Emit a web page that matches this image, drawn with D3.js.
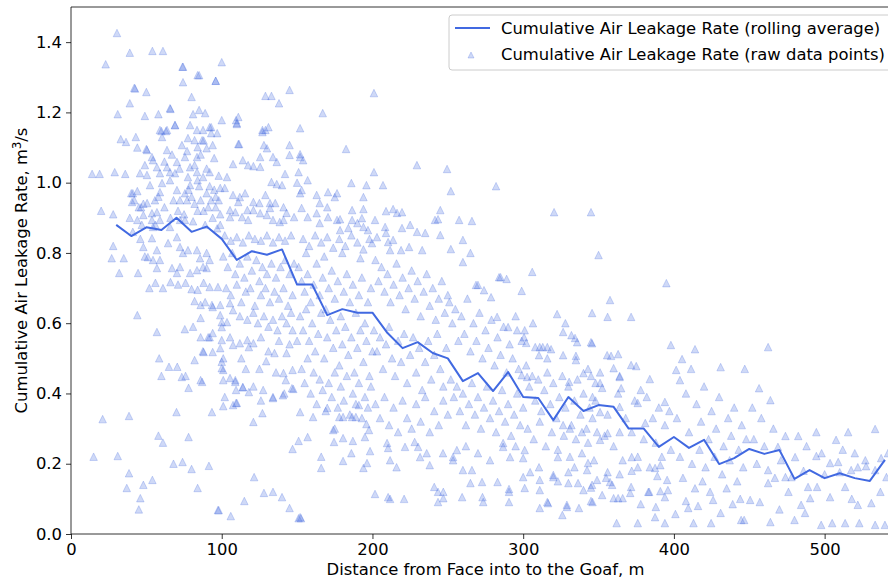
<!DOCTYPE html>
<html>
<head>
<meta charset="utf-8">
<script src="https://cdn.jsdelivr.net/npm/d3@7"></script>
<style>
  body { margin: 0; background: #fff; }
  svg { font-family: "DejaVu Sans", sans-serif; }
</style>
</head>
<body>
<svg id="chart" width="888" height="581"></svg>
<script>
// rolling average line (every 10 m)
var rollDist = [30,40,50,60,70,80,90,100,110,120,130,140,150,160,170,180,190,200,210,220,230,240,250,260,270,280,290,300,310,320,330,340,350,360,370,380,390,400,410,420,430,440,450,460,470,480,490,500,510,520,530,540];
var rollRate = [0.88,0.848,0.873,0.865,0.90,0.86,0.875,0.84,0.78,0.805,0.795,0.81,0.71,0.71,0.623,0.64,0.63,0.63,0.572,0.529,0.546,0.515,0.50,0.435,0.458,0.407,0.461,0.39,0.387,0.324,0.39,0.35,0.367,0.362,0.30,0.30,0.248,0.276,0.245,0.268,0.199,0.216,0.242,0.228,0.239,0.157,0.182,0.159,0.173,0.159,0.151,0.211];

// raw points, split by distance band
var rawNear = [[14,1.025],[19,1.025],[15,0.22],[20,0.92],[21,0.327],[23,1.337],[27,0.785],[28,0.91],[28,0.82],[29,1.03],[30.5,1.426],[31,1.195],[31,0.222],[32,0.743],[33,1.124],[35,0.785],[36,1.025],[36.5,1.116],[37,0.131],[38.5,0.336],[38.5,0.173],[39,1.37],[39,1.226],[40,0.97],[41,0.86],[42,1.27],[42,0.95],[43,1.13],[44,1.10],[44,0.623],[45,0.07],[45,0.93],[46,0.102],[46,0.84],[47,0.88],[48,0.14],[48,0.94],[49,1.19],[49,0.79],[50,1.258],[50,1.096],
  [41,0.97],[44,0.976],[40.5,0.945],[46.5,0.93],[50.5,0.942],[52.4,0.993],[55.7,0.95],[57,0.916],[53.7,0.913],[59,0.973],[60.4,0.999],[65.7,1.007],[69,1.027],[70.3,0.979],[72.3,0.95],[75.6,0.97],[79,0.993],[77.6,1.016],[84,1.007],[83.6,1.03],[87.6,1.016],
  [39,0.90],[44,0.894],[48,0.908],[53.7,0.894],[59,0.894],[54.4,0.874],[65.7,0.874],[72.3,0.894],[75.6,0.894],
  [48,0.817],[53.7,0.842],[57,0.808],[59,0.78],[64.4,0.828],[70.3,0.845],[72.3,0.817],[74.3,0.80],[77.6,0.808],[83.6,0.808],[85.6,0.785],[90,0.80],[92,0.78],[67,0.757],[70.3,0.743],[72.3,0.76],[79,0.743],[83.6,0.751],[87.6,0.76],[90,0.757],[57,0.757],[54.4,0.78],[51,0.788],[44.5,0.743],
  [59,1.15],[63.7,1.15],[60.4,1.13],[69,1.164],[65.7,1.212],[74.3,1.33],[74.3,1.286],[84,1.306],[96,1.29],[80,1.244],[85,1.207],[89,1.198],[81,1.195],[79,1.164],[83.6,1.15],[87.6,1.15],[92,1.158],[97,1.141],[77.6,1.127],[82,1.121],[87,1.121],[94,1.107],[84,1.101],[90,1.098],[50.4,1.093],[53.7,1.073],[63.7,1.093],[73.6,1.107],[75.6,1.073],[83.6,1.073],[79,1.044],[70.3,1.059],[63.7,1.044],[57,1.044],[54.4,1.064],[49,1.05],[45.8,1.027],[50.4,1.022],[59,1.027],[65.7,1.03],
  [54,1.375],[61,1.375],[74,1.33],[85,1.306],[96,1.29],[42.5,1.268],[58,1.195],[66,1.21],[69,1.164],[60,1.147],[63,1.147],[93,1.158],[93,1.141],
  [78,0.98],[80,0.96],[82,0.94],[85,0.99],[86,0.95],[88,0.92],[90,0.97],[91,0.93],[93,0.95],[94,0.90],[95,0.98],[96,0.93],[97,0.87],[98,0.95],[99,0.91],[99,0.88],[96,0.96],[92,0.99],[89,0.88],[84,0.92],[81,0.89],[77,0.95],[75,0.91],[71,0.92],[68,0.95],[66,0.90],[62,0.93],[58,0.96],[56,0.88],
  [62,1.06],[67,1.08],[72,1.04],[77,1.09],[82,1.05],[86,1.08],[90,1.04],[95,1.07],[98,1.02],[88,1.12],[92,1.03],
  [52,0.70],[56,0.715],[61,0.70],[66,0.717],[71,0.71],[76,0.715],[80,0.697],[84,0.695],[88,0.715],[92,0.703],[97.5,0.703],[82,0.663],[86,0.652],[89,0.66],[93.5,0.652],[86,0.615],[57,0.575],[58.5,0.50],[65,0.476],[70.5,0.476],[60,0.45],[73.5,0.447],[76,0.45],[78,0.416],[75.5,0.583],[81,0.59],[87.5,0.52],[82,0.495],[87,0.433],[70,0.347],[93.5,0.347],[78,0.276],[58,0.28],[61,0.26],[68,0.20],[74,0.205],[80,0.185],[91.5,0.194],[84,0.131],[97.5,0.068],[54,0.154],[92,0.56],
  [86,0.56],[91,0.56],[94,0.572],[88,0.518],[94,0.518],[86,0.438],[94,0.646],[99,0.652],[99,0.623]];

var rawMid1 = [[100,1.343],[100,1.178],[109.5,1.178],[110,1.167],[111,1.187],[110,1.17],[111,1.11],[111.5,1.11],[127,1.15],[129,1.15],[131,1.158],[127,1.144],[128,1.107],[130,1.098],[129,1.247],[133,1.247],[138,1.226],[145,1.264],[125.5,1.073],[134,1.073],[136.5,1.059],[145,1.079],[145,1.107],[107.5,1.053],[114,1.064],[117.5,1.05],[121,1.047],[125.5,1.045],[142,1.025],[133,1.002],[136.5,0.996],[140,0.993],[103.5,1.016],[99,0.985],[102,0.985],[112,0.959],[115.5,0.97],[111,0.945],[107.5,0.965],[121,0.945],[125,0.942],[129,0.965],[132,0.942],[135.5,0.942],[141,0.93],[143,0.914],[148,0.902],[105.5,0.922],[105.5,0.902],[109,0.916],[113.5,0.902],[117,0.922],[117.5,0.894],[121,0.922],[125.5,0.913],[130,0.908],[132,0.928],[134,0.894],[138.5,0.888],[141,0.894],
  [102,0.85],[106,0.835],[110,0.845],[114,0.83],[118,0.85],[122,0.84],[126,0.835],[130,0.85],[134,0.83],[138,0.845],[142,0.835],[146,0.85],
  [101,0.79],[104,0.76],[107,0.80],[109,0.74],[112,0.77],[115,0.73],[117,0.79],[120,0.75],[123,0.78],[125,0.72],[127,0.76],[130,0.74],[133,0.77],[136,0.73],[139,0.76],[142,0.78],[145,0.74],[148,0.77],[103,0.70],[106,0.68],[110,0.71],[113,0.66],[116,0.69],[119,0.70],[122,0.65],[126,0.68],[129,0.70],[132,0.66],[135,0.69],[138,0.67],[141,0.70],[144,0.65],[147,0.68],[105.5,0.657],[107.5,0.637],[112,0.62],[117,0.61],[121,0.63],[124,0.60],[128,0.62],[131,0.59],[134,0.61],[137,0.58],[140,0.62],[143,0.60],[146,0.63],
  [100,0.603],[100,0.589],[103.5,0.603],[100,0.552],[99,0.529],[101,0.50],[100,0.49],[100,0.472],[101,0.467],[105.5,0.56],[107.5,0.538],[112,0.543],[117,0.552],[118,0.532],[121,0.543],[126,0.56],[129.5,0.492],[135,0.515],[143,0.515],[141,0.458],[142.5,0.438],[147,0.467],[147.5,0.413],[141.5,0.40],[101,0.364],[102,0.39],[105.5,0.444],[109,0.433],[109.5,0.41],[109.5,0.373],[114,0.418],[118,0.404],[121,0.42],[121,0.319],[121.5,0.162],[115,0.094],[106,0.051],[98,0.068],[128,0.117],[134,0.12],[140,0.105],[145,0.074],[151,0.045],[127,0.344],[126,0.38],[134,0.387],[147,0.242],[151,0.265],[138,0.55],[145,0.54],[113,0.50],[125,0.47],[131,0.52],[136,0.46],[116,0.47],[147,0.58],[150,0.55],
  [101,0.438],[109,0.438],[114,0.418],[127.5,0.41],[134,0.39],[140.6,0.395],[146.6,0.415],[107.5,0.367],[110,0.373],
  [152,1.155],[152,1.081],[154,1.064],[151,1.03],[157,1.007],[150,1.0],[152,1.073],[153,0.979],[152,0.97],[167,1.198],[182.5,1.096],[186,0.999],[196,0.993],[163,0.965],[170.5,0.973],[176.5,0.97],[165,0.942],[170,0.93],[175,0.959],[194,0.959],[186.5,0.922],[178.5,0.896],[194,0.925],[157,0.902],[163,0.913],[165,0.885],[170.5,0.902],[176.5,0.894],[178.5,0.865],[184,0.871],[186.5,0.894],[190,0.885],[193,0.899],[194,0.874],[197,0.865],[153,0.928],
  [154,0.84],[158,0.82],[162,0.85],[166,0.83],[170,0.845],[174,0.815],[178,0.84],[182,0.82],[186,0.85],[190,0.83],[194,0.81],[198,0.84],[156,0.80],[168,0.79],[180,0.80],[192,0.785],
  [151,0.76],[153,0.72],[155,0.69],[157,0.74],[159,0.66],[161,0.71],[163,0.77],[165,0.68],[167,0.73],[169,0.64],[171,0.70],[173,0.75],[175,0.67],[177,0.72],[179,0.62],[181,0.69],[183,0.74],[185,0.66],[187,0.71],[189,0.63],[191,0.68],[193,0.73],[195,0.60],[197,0.66],[199,0.70],
  [152,0.62],[154,0.58],[156,0.64],[158,0.55],[160,0.60],[162,0.52],[164,0.57],[166,0.63],[168,0.50],[170,0.56],[172,0.61],[174,0.53],[176,0.58],[178,0.48],[180,0.54],[182,0.59],[184,0.51],[186,0.56],[188,0.46],[190,0.53],[192,0.58],[194,0.49],[196,0.55],[198,0.45],[200,0.52],
  [153,0.47],[155,0.43],[157,0.50],[159,0.40],[161,0.46],[163,0.37],[165,0.44],[167,0.41],[169,0.35],[171,0.43],[173,0.39],[175,0.46],[177,0.36],[179,0.42],[181,0.38],[183,0.45],[185,0.34],[187,0.40],[189,0.37],[191,0.43],[193,0.33],[195,0.39],[197,0.36],[199,0.42],
  [152.6,0.045],[152,0.048],[166,0.188],[166,0.22],[174.5,0.262],[186,0.23],[180.5,0.208],[194,0.188],[196.4,0.202],[198.4,0.236],[157,0.276],[187,0.265],[175,0.30],[196,0.313],[152,0.347],[160.6,0.333],[170,0.359],[178,0.333],[180.5,0.333],[186.5,0.333],[189,0.333],[191,0.367],[174,0.296],[180.5,0.273],[195,0.276],[197.7,0.296]];

var rawMid2 = [[201,1.255],[201,1.03],[229.5,1.05],[249.5,1.039],[207,0.993],[209,0.919],[213.7,0.925],[216.3,0.914],[219.6,0.916],[245,0.922],[243.5,0.896],[241.5,0.894],[252,0.976],[201.7,0.894],[208.4,0.874],[209,0.857],[203,0.845],[199.7,0.828],[219.6,0.871],[225,0.88],[229.6,0.86],[235,0.857],[224.3,0.817],[210.4,0.831],[213.7,0.837],[211.7,0.808],[219,0.808],[233,0.808],[245,0.851],
  [202,0.78],[204,0.72],[206,0.76],[208,0.69],[210,0.74],[212,0.66],[214,0.71],[216,0.77],[218,0.68],[220,0.73],[222,0.64],[224,0.70],[226,0.75],[228,0.67],[230,0.72],[232,0.62],[234,0.69],[236,0.74],[238,0.65],[240,0.70],[242,0.61],[244,0.67],[246,0.72],[248,0.63],[250,0.68],
  [201,0.58],[203,0.52],[205,0.56],[207,0.47],[209,0.54],[211,0.59],[213,0.50],[215,0.45],[217,0.55],[219,0.49],[221,0.57],[223,0.43],[225,0.51],[227,0.56],[229,0.46],[231,0.53],[233,0.41],[235,0.49],[237,0.55],[239,0.44],[241,0.51],[243,0.57],[245,0.47],[247,0.42],[249,0.53],
  [202,0.37],[205,0.33],[208,0.39],[211,0.31],[214,0.36],[217,0.29],[220,0.38],[223,0.33],[226,0.30],[229,0.37],[232,0.32],[235,0.39],[238,0.29],[241,0.35],[244,0.31],[247,0.38],[250,0.34],
  [201.7,0.114],[209.7,0.259],[210.4,0.245],[211.7,0.21],[210.4,0.105],[211.7,0.10],[221,0.10],[221.6,0.248],[228,0.262],[230.3,0.248],[231.6,0.219],[236,0.23],[238,0.196],[241,0.134],[243.5,0.12],[247,0.12],[243.5,0.091],[247,0.102],[246.8,0.23],[216,0.19],
  [257.5,0.894],[266,0.891],[252,0.811],[260,0.837],[265,0.80],[260,0.774],[282,0.99],[284,0.731],[289,0.726],[285,0.731],[268.7,0.709],[274,0.694],[278.7,0.674],[270,0.709],[299,0.692],[282.7,0.618],[290,0.589],[296,0.58],
  [251,0.66],[253,0.60],[255,0.64],[257,0.55],[259,0.62],[261,0.57],[263,0.67],[265,0.52],[267,0.60],[269,0.55],[271,0.63],[273,0.50],[275,0.58],[277,0.53],[279,0.61],[281,0.48],[283,0.56],[285,0.51],[287,0.59],[289,0.46],[291,0.54],[293,0.50],[295,0.62],[297,0.47],[299,0.55],
  [252,0.44],[254,0.39],[256,0.42],[258,0.35],[260,0.40],[262,0.31],[264,0.37],[266,0.43],[268,0.34],[270,0.39],[272,0.30],[274,0.36],[276,0.42],[278,0.33],[280,0.38],[282,0.29],[284,0.35],[286,0.41],[288,0.32],[290,0.37],[292,0.28],[294,0.34],[296,0.40],[298,0.31],[300,0.36],
  [253.5,0.219],[253.5,0.21],[256,0.239],[259.5,0.105],[260,0.182],[265,0.145],[266,0.182],[272.7,0.148],[273,0.105],[273.5,0.091],[278,0.21],[283,0.148],[286.7,0.259],[286.7,0.248],[290.6,0.128],[290.6,0.12],[290.6,0.091],[291.3,0.219],[300,0.162],[300,0.216],[301,0.131],[301,0.239],[262,0.25],[270,0.23],[295,0.25]];

var rawFar1 = [[306,0.746],[320.5,0.916],[345,0.916],[350,0.794],[306.5,0.60],[322.5,0.626],[328,0.60],[345.7,0.629],[301,0.58],[300.6,0.56],[302,0.544],[308,0.532],[311,0.532],[313,0.532],[316,0.532],[318.5,0.526],[326.5,0.575],[332,0.566],[334.4,0.558],[335.8,0.546],[345.7,0.543],[345,0.546],[310.5,0.509],[316,0.50],[326.5,0.509],[335,0.507],[335,0.495],[343,0.47],[345,0.45],[348,0.43],[346,0.39],
  [302,0.48],[304,0.42],[306,0.45],[308,0.38],[310,0.44],[312,0.35],[314,0.41],[316,0.46],[318,0.37],[320,0.43],[322,0.33],[324,0.39],[326,0.45],[328,0.36],[330,0.42],[332,0.31],[334,0.38],[336,0.44],[338,0.34],[340,0.40],[342,0.30],[344,0.36],[346,0.33],[348,0.38],[303,0.30],[307,0.27],[311,0.32],[315,0.25],[319,0.29],[323,0.24],[327,0.28],[331,0.22],[335,0.27],[339,0.23],[343,0.26],[347,0.21],[349,0.29],
  [299,0.452],[302.6,0.447],[330.5,0.433],[340,0.458],[326.5,0.31],[331,0.30],[339,0.29],[323,0.219],[330,0.176],[342.4,0.182],[343,0.202],[345.7,0.14],[349,0.154],
  [304.6,0.176],[310.5,0.19],[311,0.125],[311,0.074],[316,0.091],[320,0.168],[326,0.054],[329,0.083],[330,0.145],[337,0.074],[340,0.125],[345,0.094],[345,0.132],[334,0.19],[323,0.15],[316.5,0.088],[329,0.077],[311,0.154],[320,0.162],[336.4,0.145],[346,0.091],
  [357.6,0.666],[356,0.618],[371.6,0.618],[395,0.714],[355.7,0.509],[358.3,0.507],[363,0.512],[398,0.538],[371.6,0.481],[375,0.478],[384,0.441],[360,0.472],[364,0.45],[365,0.415],[363,0.40],[374,0.38],[376,0.373],[378,0.41],[382,0.39],[351,0.46],[352.4,0.416],[351,0.43],[364,0.447],[394,0.376],[381,0.316],[364,0.362],[351,0.347],[356,0.34],[386,0.33],[390,0.36],[394,0.31],[397,0.35],[368,0.33],[372,0.29],[380,0.27],[388,0.26],[392,0.22],[398,0.24],[360,0.25],[366,0.21],[354,0.28],[376,0.22],[384,0.19],[356,0.287],[364,0.29],[351,0.268],[372,0.219],[376,0.19],[387.5,0.188],[391,0.196],[395.5,0.154],[396,0.125],
  [362,0.031],[376,0.031],[394,0.031],[387.5,0.048],[388,0.077],[391,0.122],[394,0.105],[378,0.085],[366,0.102],[360,0.102],[371.6,0.134],[383.6,0.12],[355,0.16],[364,0.17],[372,0.18],[389,0.165],[352.4,0.111],[363,0.102],[371,0.117],[383,0.12],[356,0.176],[357.6,0.148],[359,0.14]];

var rawFar2 = [[405.4,0.498],[414,0.526],[401.5,0.467],[404,0.438],[411.4,0.47],[431,0.475],[447,0.47],[408,0.40],[415,0.37],[420,0.42],[425,0.35],[430,0.39],[436,0.33],[440,0.36],[445,0.31],[402,0.33],[410,0.29],[418,0.32],[423,0.27],[428,0.30],[433,0.25],[438,0.28],[443,0.24],[448,0.27],[404,0.22],[412,0.20],[417,0.24],[421,0.19],[427,0.22],[432,0.17],[437,0.21],[442,0.15],[446,0.19],[406,0.16],[414,0.13],[419,0.15],[424,0.12],[435,0.13],[444,0.10],[408,0.094],[409.5,0.074],[413,0.031],[424.7,0.031],[426,0.097],[444.6,0.04],[446.6,0.04],[401,0.057],[416,0.08],[431,0.06],[439,0.085],
  [450.6,0.097],[457,0.091],[462.5,0.145],[462.5,0.182],[469,0.248],[474,0.279],[482.5,0.279],[494.5,0.29],[507.6,0.268],[515.6,0.29],[533.5,0.299],[520,0.23],[537.5,0.216],[503.6,0.202],[509,0.205],[494.5,0.222],[480.4,0.219],[474,0.162],[478,0.162],[489,0.134],[495,0.134],[490.4,0.102],[484.4,0.083],[503.6,0.105],[510,0.176],[517.6,0.182],[522,0.19],[527.5,0.193],[533.5,0.182],[513.6,0.134],[522,0.083],[531,0.088],[541,0.162],[480,0.04],[497.7,0.026],[505,0.031],[513.6,0.031],[523,0.031],[533.5,0.026],[540,0.026],[464,0.034],[462.5,0.532],[456.5,0.415],[464,0.381],[452,0.36],[458,0.33],[466,0.30],[453,0.27],[460,0.25],[471,0.21],[455,0.20],[467,0.16],[476,0.12],[486,0.18],[500,0.17],[545,0.20],
  [488,0.25],[498,0.23],[512,0.24],[527,0.21],[542,0.23],[470,0.07],[487,0.06],[518,0.10],[537,0.12]];

var xTicks = [0,100,200,300,400,500];
var yTicks = [0.0,0.2,0.4,0.6,0.8,1.0,1.2,1.4];
var legendLabels = ["Cumulative Air Leakage Rate (rolling average)", "Cumulative Air Leakage Rate (raw data points)"];

var lineColor = "#4169e1";
var fontSize = "16.4px";
var margin = {left: 71, top: 7, bottom: 534, right: 900};

var svg = d3.select("#chart");

var x = d3.scaleLinear().domain([0, 550]).range([margin.left, margin.right]);
var y = d3.scaleLinear().domain([0, 1.5]).range([margin.bottom, margin.top]);

var rawPoints = rawNear.concat(rawMid1, rawMid2, rawFar1, rawFar2);

// triangle marker, like matplotlib '^'
function tri(w) {
    var h = w;
    return "M0," + (-h / 2) + "L" + (w / 2) + "," + (h / 2) + "L" + (-w / 2) + "," + (h / 2) + "Z";
}

svg.append("clipPath").attr("id", "plotClip")
    .append("rect")
    .attr("x", margin.left).attr("y", margin.top)
    .attr("width", margin.right - margin.left).attr("height", margin.bottom - margin.top);

var plot = svg.append("g").attr("clip-path", "url(#plotClip)");

// raw data points
plot.selectAll(".raw")
    .data(rawPoints)
    .enter()
    .append("path")
    .attr("class", "raw")
    .attr("d", tri(7.5))
    .attr("transform", function(d) { return "translate(" + x(d[0]) + "," + y(d[1]) + ")"; })
    .style("fill", lineColor)
    .style("fill-opacity", 0.25)
    .style("stroke", lineColor)
    .style("stroke-opacity", 0.25)
    .style("stroke-width", 1);

// rolling average
var line = d3.line()
    .x(function(d, i) { return x(rollDist[i]); })
    .y(function(d) { return y(d); });

plot.append("path")
    .datum(rollRate)
    .attr("d", line)
    .style("fill", "none")
    .style("stroke", lineColor)
    .style("stroke-width", 2)
    .style("stroke-linejoin", "round");

// axes
var xAxis = svg.append("g")
    .attr("transform", "translate(0," + margin.bottom + ")")
    .call(d3.axisBottom(x).tickValues(xTicks).tickSize(5).tickPadding(4).tickFormat(d3.format("d")));
var yAxis = svg.append("g")
    .attr("transform", "translate(" + margin.left + ",0)")
    .call(d3.axisLeft(y).tickValues(yTicks).tickSize(5).tickPadding(4).tickFormat(d3.format(".1f")));

[xAxis, yAxis].forEach(function(a) {
    a.selectAll("text").style("font-size", fontSize).style("font-family", "DejaVu Sans").style("fill", "#000");
    a.selectAll("line").style("stroke", "#000").style("stroke-width", 0.8);
    a.select(".domain").remove();
});

// spines: left, bottom, top (right one is off the page)
svg.append("line").attr("x1", margin.left).attr("x2", margin.left).attr("y1", margin.top).attr("y2", margin.bottom)
    .style("stroke", "#000").style("stroke-width", 0.8);
svg.append("line").attr("x1", margin.left).attr("x2", margin.right).attr("y1", margin.bottom).attr("y2", margin.bottom)
    .style("stroke", "#000").style("stroke-width", 0.8);
svg.append("line").attr("x1", margin.left).attr("x2", margin.right).attr("y1", margin.top).attr("y2", margin.top)
    .style("stroke", "#000").style("stroke-width", 0.8);

// axis titles
svg.append("text")
    .attr("x", (margin.left + margin.right) / 2)
    .attr("y", 575)
    .attr("text-anchor", "middle")
    .style("font-size", fontSize)
    .text("Distance from Face into to the Goaf, m");

var yTitle = svg.append("text")
    .attr("transform", "translate(27," + ((margin.top + margin.bottom) / 2) + ") rotate(-90)")
    .attr("text-anchor", "middle")
    .style("font-size", fontSize);
yTitle.append("tspan").text("Cumulative Air Leakage Rate, m");
yTitle.append("tspan").attr("dy", -6).style("font-size", "11.5px").text("3");
yTitle.append("tspan").attr("dy", 6).text("/s");

// legend
var legend = svg.append("g");
legend.append("rect")
    .attr("x", 449).attr("y", 15)
    .attr("width", 460).attr("height", 55)
    .attr("rx", 3)
    .style("fill", "#fff").style("fill-opacity", 0.8)
    .style("stroke", "#ccc").style("stroke-width", 1);
legend.append("line")
    .attr("x1", 455).attr("x2", 490).attr("y1", 28).attr("y2", 28)
    .style("stroke", lineColor).style("stroke-width", 2);
legend.append("path")
    .attr("d", tri(6))
    .attr("transform", "translate(471,55)")
    .style("fill", lineColor).style("fill-opacity", 0.25)
    .style("stroke", lineColor).style("stroke-opacity", 0.25);
legend.selectAll(".legText")
    .data(legendLabels)
    .enter()
    .append("text")
    .attr("class", "legText")
    .attr("x", 501)
    .attr("y", function(d, i) { return 34 + i * 26; })
    .style("font-size", fontSize)
    .text(function(d) { return d; });
</script>
</body>
</html>
